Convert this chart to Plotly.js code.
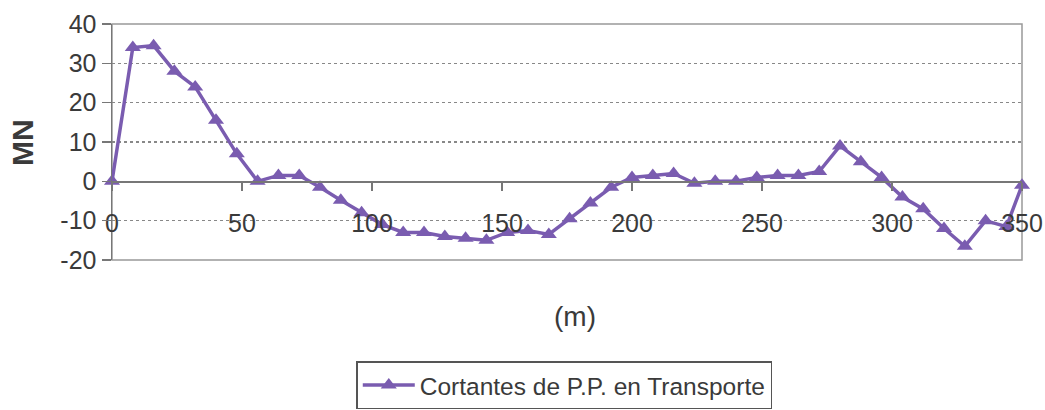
<!DOCTYPE html>
<html>
<head>
<meta charset="utf-8">
<script src="https://cdn.plot.ly/plotly-3.0.1.min.js"></script>
<style>html,body{margin:0;padding:0;background:#fff;}#chart{width:1045px;height:410px;}</style>
</head>
<body>
<div id="chart"></div>
<script>
const distance = [0, 8, 16, 24, 32, 40, 48, 56, 64, 72, 80, 88, 96, 104, 112, 120, 128, 136, 144, 152, 160, 168, 176, 184, 192, 200, 208, 216, 224, 232, 240, 248, 256, 264, 272, 280, 288, 296, 304, 312, 320, 328, 336, 344, 350];
const shear = [0, 34, 34.5, 28, 24, 15.5, 7, 0, 1.5, 1.5, -1.5, -4.8, -8, -11, -13, -13, -14, -14.5, -15, -13, -12.5, -13.5, -9.5, -5.5, -1.5, 1, 1.5, 2, -0.5, 0, 0, 1, 1.5, 1.5, 2.5, 9, 5, 1, -4, -7, -12, -16.5, -10, -11.5, -1];
const seriesName = "Cortantes de P.P. en Transporte";
const yTicks = [-20, -10, 0, 10, 20, 30, 40];
const xTicks = [0, 50, 100, 150, 200, 250, 300, 350];

const font = "Liberation Sans, Arial, sans-serif";
const purple = "#7a5cb0";

const trace = {
  x: distance, y: shear, type: "scatter", mode: "lines+markers", name: seriesName,
  line: {color: purple, width: 3.5},
  marker: {symbol: "triangle-up", size: 14, color: purple},
  cliponaxis: false
};

const layout = {
  width: 1045, height: 410,
  margin: {l: 112, r: 23, t: 24, b: 150, autoexpand: false},
  paper_bgcolor: "#fff", plot_bgcolor: "#fff",
  font: {family: font, color: "#3a3a3a", size: 24},
  showlegend: true,
  legend: {
    x: 0.497, xanchor: "center", y: -0.632, yanchor: "bottom",
    bordercolor: "#555", borderwidth: 1.5, bgcolor: "#fff",
    font: {family: font, size: 24.5, color: "#3a3a3a"},
    itemwidth: 52, tracegroupgap: 0
  },
  xaxis: {
    range: [0, 350], tickvals: xTicks, ticktext: xTicks.map(String),
    anchor: "free", position: 1/3,
    showline: true, linecolor: "#777", linewidth: 1.5,
    ticks: "outside", ticklen: 8, tickcolor: "#777", tickwidth: 1.5,
    ticklabelstandoff: 11,
    showgrid: false, zeroline: false, automargin: false,
    tickfont: {family: font, size: 25, color: "#3a3a3a"}
  },
  yaxis: {
    range: [-20, 40], tickvals: yTicks, ticktext: yTicks.map(String),
    showline: true, linecolor: "#777", linewidth: 1.5,
    ticks: "outside", ticklen: 9, tickcolor: "#777", tickwidth: 1.5,
    showgrid: true, gridcolor: "#888", griddash: "dot", gridwidth: 1.3,
    zeroline: false, automargin: false,
    tickfont: {family: font, size: 25, color: "#3a3a3a"}
  },
  shapes: [
    {type: "rect", xref: "paper", yref: "paper", x0: 0, x1: 1, y0: 0, y1: 1,
     line: {color: "#999", width: 1.5}, layer: "below"}
  ],
  annotations: [
    {text: "MN", xref: "paper", yref: "paper", x: -0.099, y: 0.5, textangle: -90,
     showarrow: false, xanchor: "center", yanchor: "middle",
     font: {family: font, size: 30, color: "#3a3a3a", weight: "bold"}},
    {text: "(m)", xref: "paper", yref: "paper", x: 0.509, y: -0.24,
     showarrow: false, xanchor: "center", yanchor: "middle",
     font: {family: font, size: 28, color: "#3a3a3a"}}
  ]
};

Plotly.newPlot("chart", [trace], layout, {displayModeBar: false, staticPlot: true});
</script>
</body>
</html>
